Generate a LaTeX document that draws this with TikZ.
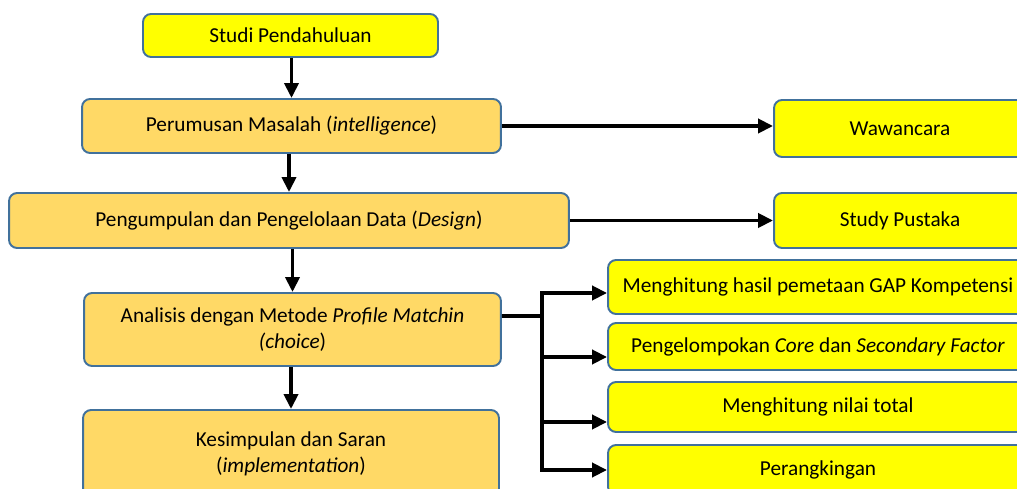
\documentclass[tikz,border=0pt]{standalone}
\usepackage{fontspec}
\setmainfont{Carlito}
\usetikzlibrary{arrows.meta}
\definecolor{kuning}{HTML}{FFFF00}
\definecolor{oranye}{HTML}{FFD966}
\definecolor{garis}{HTML}{41719C}

\begin{document}
\begin{tikzpicture}[x=0.02cm,y=-0.02cm,
    kotak/.style={draw=garis,line width=1.1pt,rounded corners=0.16cm,align=center,inner sep=2pt,font=\fontsize{12.1}{14.9}\selectfont},
    kuningbox/.style={kotak,fill=kuning},
    oranyebox/.style={kotak,fill=oranye},
    panah/.style={line width=2.2pt,-{Triangle[length=0.3cm,width=0.28cm]}}]
            \useasboundingbox (0,0) rectangle (1017,489);
            % alur utama
            \node[kuningbox,minimum width=5.9cm,minimum height=0.86cm] (studi) at (290.5,35.5) {Studi Pendahuluan};
            \node[oranyebox,minimum width=8.38cm,minimum height=1.08cm] (rumus) at (291.5,126) {Perumusan Masalah (\textit{intelligence})};
            \node[oranyebox,minimum width=11.2cm,minimum height=1.1cm] (kumpul) at (289,220.5) {Pengumpulan dan Pengelolaan Data (\textit{Design})};
            \node[oranyebox,minimum width=8.34cm,minimum height=1.46cm] (analisis) at (292.5,329.5) {Analisis dengan Metode \textit{Profile Matchin}\\\textit{(choice})};
            \node[oranyebox,minimum width=8.32cm,minimum height=1.74cm] (simpul) at (291,453.5) {Kesimpulan dan Saran\\(\textit{implementation})};
            % kotak samping
            \node[kuningbox,minimum width=5.04cm,minimum height=1.14cm] (wawancara) at (900,128.5) {Wawancara};
            \node[kuningbox,minimum width=5.04cm,minimum height=1.1cm] (pustaka) at (900,220.5) {Study Pustaka};
            \node[kuningbox,minimum width=8.4cm,minimum height=1.08cm] (gap) at (818,287) {Menghitung hasil pemetaan GAP Kompetensi};
            \node[kuningbox,minimum width=8.4cm,minimum height=0.94cm] (faktor) at (818,346.5) {Pengelompokan \textit{Core} dan \textit{Secondary Factor}};
            \node[kuningbox,minimum width=8.4cm,minimum height=1.0cm] (total) at (818,407) {Menghitung nilai total};
            \node[kuningbox,minimum width=8.4cm,minimum height=1.0cm] (ranking) at (818,470) {Perangkingan};
            % panah
            \draw[panah] (studi.south -| rumus.north) -- (rumus.north);
            \draw[panah] (rumus.south -| kumpul.north) -- (kumpul.north);
            \draw[panah] (kumpul.south -| analisis.north) -- (analisis.north);
            \draw[panah] (analisis.south -| simpul.north) -- (simpul.north);
            \draw[panah] (rumus.east) -- (rumus.east -| wawancara.west);
            \draw[panah] (kumpul.east) -- (kumpul.east -| pustaka.west);
            \coordinate (cabang) at (542,316);
            \draw[line width=2.2pt] ([yshift=0.27cm]analisis.east) -- (cabang);
            \draw[panah] (cabang) |- ([yshift=-0.12cm]gap.west);
            \draw[panah] (cabang) |- ([yshift=-0.21cm]faktor.west);
            \draw[panah] (cabang) |- ([yshift=-0.3cm]total.west);
            \draw[panah] (cabang) |- (ranking.west);
        \end{tikzpicture}
\end{document}
